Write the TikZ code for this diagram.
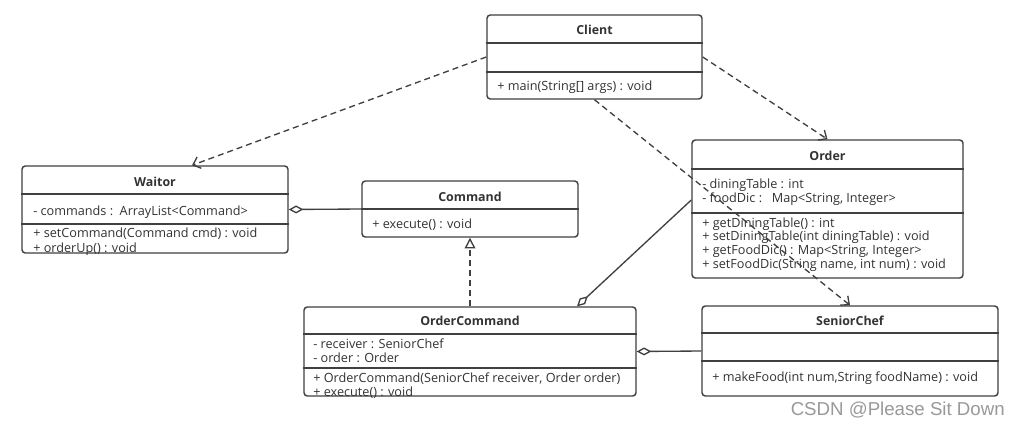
\documentclass[tikz,border=0pt]{standalone}
\usepackage{fontspec}
\setmainfont{Open Sans}
\newfontfamily\markfont{Liberation Sans}
\usetikzlibrary{calc,positioning,fit,arrows.meta}

\definecolor{umlline}{HTML}{404040}
\definecolor{umltext}{HTML}{333333}

\begin{document}
\begin{tikzpicture}[x=0.75pt,y=-0.75pt
        , class/.style={draw=umlline,line width=1.1pt,rounded corners=2.5pt,inner sep=0pt}
        , divider/.style={draw=umlline,line width=1.1pt}
        , title/.style={font=\fontsize{9.3}{10}\selectfont\bfseries,text=umltext,inner sep=0pt}
        , member/.style={anchor=west,align=left,font=\fontsize{9.5}{10.3}\selectfont,text=umltext,inner sep=0pt}
        , depends/.style={draw=umlline,line width=1pt,dash pattern=on 4.5pt off 3pt,-{Straight Barb[length=5pt,width=9pt]}}
        , realizes/.style={draw=umlline,line width=1pt,dash pattern=on 4.5pt off 3pt,-{Triangle[open,length=8pt,width=8pt]}}
        , aggregates/.style={draw=umlline,line width=1pt,-{Diamond[open,length=11pt,width=6pt]}}
        ]
        \fill[white] (0,0) rectangle (1020,425);
        \useasboundingbox (0,0) rectangle (1020,425);

        % Client
        \node[class, fit={(487,15) (702,99)}] (client) {};
        \node[title] (clientName) at (594.5,30) {Client};
        \draw[divider] (client.west |- 0,43) -- (client.east |- 0,43);
        \draw[divider] (client.west |- 0,72) -- (client.east |- 0,72);
        \node[member] (clientOps) at (497,87) {+ main(String[] args) : void};

        % Waitor
        \node[class, fit={(22,166) (288,253)}] (waitor) {};
        \node[title] (waitorName) at (155,182) {Waitor};
        \draw[divider] (waitor.west |- 0,194) -- (waitor.east |- 0,194);
        \node[member] (waitorAttrs) at (33,212) {- commands :\ \ ArrayList<Command>};
        \draw[divider] (waitor.west |- 0,224) -- (waitor.east |- 0,224);
        \node[member,font=\fontsize{9.5}{11}\selectfont] (waitorOps) at (33,241.5) {+ setCommand(Command cmd) : void\\+ orderUp() : void};

        % Command
        \node[class, fit={(362,181) (578,237)}] (command) {};
        \node[title] (commandName) at (470,197) {Command};
        \draw[divider] (command.west |- 0,209) -- (command.east |- 0,209);
        \node[member] (commandOps) at (372,225) {+ execute() : void};

        % Order
        \node[class, fit={(692,140) (963,278)}] (order) {};
        \node[title] (orderName) at (827.5,156) {Order};
        \draw[divider,line width=1.5pt] (order.west |- 0,169) -- (order.east |- 0,169);
        \node[member] (orderAttrs) at (702,192.5) {- diningTable : int\\- foodDic :\ \ \ Map<String, Integer>};
        \draw[divider,line width=1.5pt] (order.west |- 0,213) -- (order.east |- 0,213);
        \node[member] (orderOps) at (702,244.5) {+ getDiningTable() : int\\+ setDiningTable(int diningTable) : void\\+ getFoodDic() : Map<String, Integer>\\+ setFoodDic(String name, int num) : void};

        % OrderCommand
        \node[class, fit={(304,307) (636,396)}] (orderCommand) {};
        \node[title] (orderCommandName) at (470,321) {OrderCommand};
        \draw[divider] (orderCommand.west |- 0,334) -- (orderCommand.east |- 0,334);
        \node[member] (orderCommandAttrs) at (313,350.5) {- receiver : SeniorChef\\- order : Order};
        \draw[divider] (orderCommand.west |- 0,368) -- (orderCommand.east |- 0,368);
        \node[member] (orderCommandOps) at (313,386) {+ OrderCommand(SeniorChef receiver, Order order)\\+ execute() : void};

        % SeniorChef
        \node[class, fit={(702,306) (998,396)}] (seniorChef) {};
        \node[title] (seniorChefName) at (850,321) {SeniorChef};
        \draw[divider] (seniorChef.west |- 0,333) -- (seniorChef.east |- 0,333);
        \draw[divider] (seniorChef.west |- 0,361) -- (seniorChef.east |- 0,361);
        \node[member] (seniorChefOps) at (712,378) {+ makeFood(int num,String foodName) : void};

        % relations
        \draw[depends] (client.west) -- ($(waitor.north)+(37,0)$);
        \draw[depends] (client.east) -- (order.north);
        \draw[depends] (client.south) -- (seniorChef.north);
        \draw[realizes] (orderCommand.north -| command.south) -- (command.south);
        \draw[aggregates] (command.west) -- (waitor.east);
        \draw[aggregates] ($(order.west)+(0,-9)$) -- ($(orderCommand.north)+(107,0)$);
        \draw[aggregates] (seniorChef.west) -- (orderCommand.east);

        \node[font=\markfont\fontsize{14}{16}\selectfont,text=black!40,anchor=east,inner sep=0pt] (mark) at (1005,410) {CSDN @Please Sit Down};
    \end{tikzpicture}
\end{document}
